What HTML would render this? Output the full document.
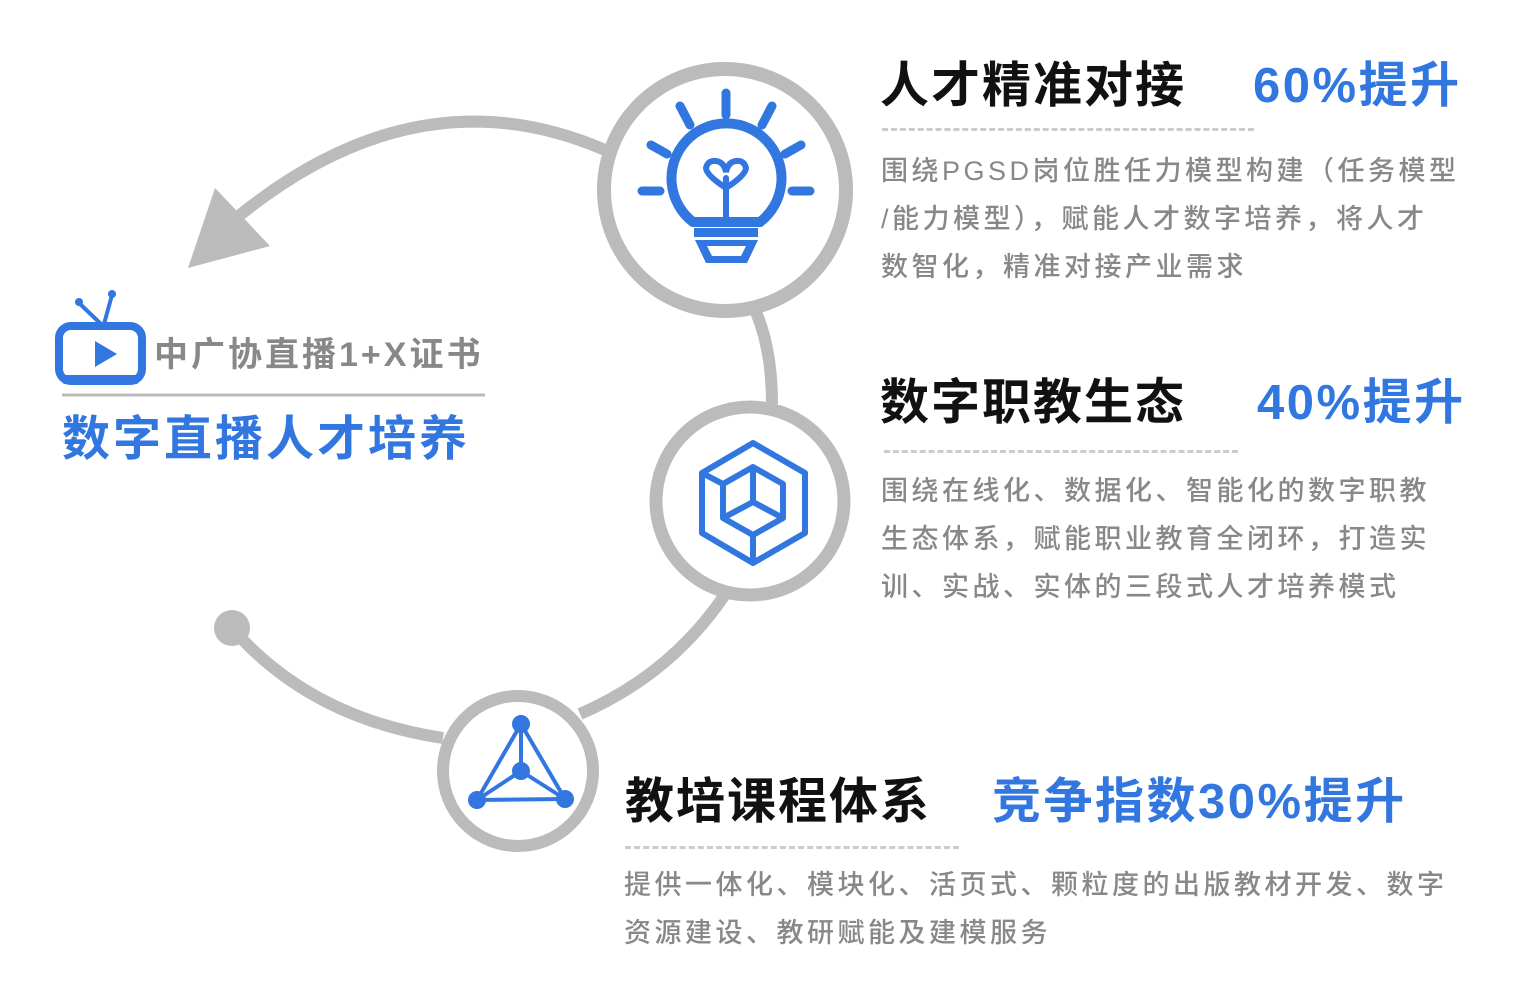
<!DOCTYPE html>
<html><head><meta charset="utf-8"><style>
body{margin:0;width:1536px;height:1004px;background:#fff;position:relative;overflow:hidden;font-family:"Liberation Sans","Noto Sans CJK SC",sans-serif}
.t{position:absolute;white-space:nowrap}
.h{font-size:49px;font-weight:bold;color:#111;letter-spacing:2px}
.p{font-size:49px;font-weight:bold;color:#3277e0;letter-spacing:2.5px}
.d{font-size:27px;color:#888;line-height:48px;font-weight:500;letter-spacing:3.5px}
.dash{position:absolute;height:0;border-top:3px dashed #ccc}
</style></head><body>
<svg width="1536" height="1004" style="position:absolute;left:0;top:0">
<g fill="none" stroke="#bbb" stroke-width="12">
<path d="M605 150 Q420 70 240 215"/>
<path d="M756 312 Q772 350 772 404"/>
<path d="M724 596 Q670 675 580 714"/>
<path d="M443 738 Q310 718 232 628"/>
<circle cx="725" cy="190" r="121" stroke-width="14"/>
<circle cx="750" cy="501" r="94" stroke-width="13"/>
<circle cx="518" cy="771" r="75" stroke-width="12"/>
</g>
<polygon points="188,268 270,246 215,188" fill="#bbb"/>
<circle cx="232" cy="628" r="18" fill="#bbb"/>
<g stroke="#3277e0" stroke-linecap="round" fill="none" stroke-width="9">
<line x1="726" y1="93" x2="726" y2="115"/>
<line x1="680" y1="106" x2="690" y2="125"/>
<line x1="772" y1="106" x2="762" y2="125"/>
<line x1="651" y1="145" x2="667" y2="154"/>
<line x1="801" y1="145" x2="785" y2="154"/>
<line x1="642" y1="191" x2="660" y2="191"/>
<line x1="792" y1="191" x2="810" y2="191"/>
<path d="M693 222 A55 55 0 1 1 760 222 L693 222" stroke-width="10"/>
<path d="M726 220 V178 M726 188 Q706 175 706 168 Q708 160 716 161 Q724 162 726 172 Q728 162 736 161 Q744 160 746 168 Q746 175 726 188" stroke-width="6"/>
</g>
<rect x="694" y="228" width="64" height="9" fill="#3277e0"/>
<path d="M695 240 H758 L747 263 H706 Z M707 246 L712 256 H741 L746 246 Z" fill="#3277e0" fill-rule="evenodd"/>
<g stroke="#3277e0" stroke-width="6" fill="none" stroke-linejoin="round">
<polygon points="753,443 805,473 805,533 753,563 702,533 702,473"/>
<polygon points="753,467 783,484 783,518 753,535 723,518 723,484"/>
<path d="M753 467 V502 L723 518 M753 502 L783 518 M702 473 L723 484 M753 535 V563"/>
</g>
<g stroke="#3277e0" stroke-width="4" fill="#3277e0">
<line x1="521" y1="724" x2="477" y2="800"/><line x1="521" y1="724" x2="565" y2="799"/>
<line x1="477" y1="800" x2="565" y2="799"/><line x1="521" y1="724" x2="521" y2="771"/>
<line x1="521" y1="771" x2="477" y2="800"/><line x1="521" y1="771" x2="565" y2="799"/>
<circle cx="521" cy="724" r="7"/><circle cx="521" cy="771" r="7"/>
<circle cx="477" cy="800" r="7"/><circle cx="565" cy="799" r="7"/>
</g>
<g fill="#3277e0">
<rect x="59" y="326" width="83" height="55" rx="12" fill="none" stroke="#3277e0" stroke-width="8"/>
<rect x="62" y="375" width="77" height="9" rx="3"/>
<polygon points="95,341 95,367 117,354"/>
</g>
<g stroke="#3277e0" stroke-width="4" stroke-linecap="round"><line x1="78" y1="302" x2="102" y2="325"/><line x1="112" y1="295" x2="104" y2="324"/></g>
<circle cx="79" cy="302" r="4" fill="#3277e0"/><circle cx="112" cy="294" r="4" fill="#3277e0"/>
<line x1="62" y1="395" x2="485" y2="395" stroke="#bbb" stroke-width="3"/>
</svg>
<div class="t" style="left:154px;top:327px;font-size:34px;color:#888;font-weight:bold;letter-spacing:3px">中广协直播1+X证书</div>
<div class="t" style="left:62px;top:399px;font-size:48px;color:#3277e0;font-weight:bold;letter-spacing:3px">数字直播人才培养</div>

<div class="t h" style="left:880px;top:46px">人才精准对接</div>
<div class="t p" style="left:1253px;top:46px">60%提升</div>
<div class="dash" style="left:882px;top:128px;width:372px"></div>
<div class="t d" style="left:881px;top:147px">围绕PGSD岗位胜任力模型构建（任务模型<br>/能力模型），赋能人才数字培养，将人才<br>数智化，精准对接产业需求</div>

<div class="t h" style="left:880px;top:363px">数字职教生态</div>
<div class="t p" style="left:1257px;top:363px">40%提升</div>
<div class="dash" style="left:884px;top:450px;width:354px"></div>
<div class="t d" style="left:881px;top:467px">围绕在线化、数据化、智能化的数字职教<br>生态体系，赋能职业教育全闭环，打造实<br>训、实战、实体的三段式人才培养模式</div>

<div class="t h" style="left:625px;top:762px">教培课程体系</div>
<div class="t p" style="left:992px;top:762px">竞争指数30%提升</div>
<div class="dash" style="left:625px;top:846px;width:334px"></div>
<div class="t d" style="left:624px;top:861px">提供一体化、模块化、活页式、颗粒度的出版教材开发、数字<br>资源建设、教研赋能及建模服务</div>
</body></html>
